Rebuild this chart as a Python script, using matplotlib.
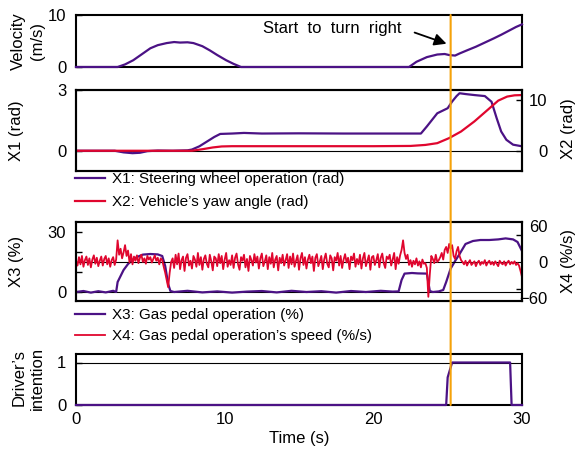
import numpy as np
import matplotlib
matplotlib.use("Agg")
import matplotlib.pyplot as plt
from matplotlib.patches import ConnectionPatch
from matplotlib.ticker import FixedLocator

plt.rcParams['font.family'] = ['Liberation Sans', 'DejaVu Sans']
plt.rcParams['font.size'] = 12

# ---------------- data ----------------
vel_t = [0, 2.8, 3.3, 3.85, 4.4, 5.0, 5.5, 6.1, 6.6, 7.0, 7.5, 7.9, 8.5, 9.0, 9.5, 10.1,
         10.6, 11.1, 22.4, 22.9, 23.6, 24.3, 24.8, 25.1, 25.5, 25.8, 26.3, 26.9, 27.5,
         28.1, 28.6, 29.2, 29.6, 30]
vel_v = [0, 0, 0.5, 1.3, 2.4, 3.6, 4.2, 4.6, 4.8, 4.7, 4.75, 4.6, 4.0, 3.2, 2.3, 1.3,
         0.6, 0, 0, 1.0, 1.9, 2.4, 2.5, 2.3, 2.2, 2.6, 3.2, 3.9, 4.7, 5.5, 6.2, 7.1, 7.7, 8.2]

x1_t = [0, 2.6, 3.2, 3.8, 4.3, 4.8, 5.5, 6.5, 7.5, 7.8, 8.3, 8.8, 9.3, 9.7, 10.5, 11.3,
        12.5, 15, 18, 21, 23.2, 23.6, 24.3, 25.0, 25.3, 25.6, 25.8, 26.2, 26.8, 27.5,
        27.95, 28.3, 28.6, 28.95, 29.4, 30]
x1_v = [0, 0, -0.08, -0.12, -0.1, -0.02, 0.01, 0, 0.02, 0.06, 0.22, 0.45, 0.68, 0.83,
        0.85, 0.88, 0.85, 0.86, 0.85, 0.85, 0.85, 1.2, 1.85, 2.1, 2.43, 2.7, 2.84, 2.8,
        2.75, 2.7, 2.42, 1.6, 0.95, 0.54, 0.3, 0.22]

x2_t = [0, 7.8, 8.5, 9.2, 9.8, 10.5, 15, 20, 22.5, 23.5, 24.3, 25.1, 25.9, 26.8, 27.7,
        28.4, 29.0, 29.5, 30]
x2_v = [0, 0, 0.3, 0.65, 0.85, 0.9, 0.9, 0.9, 0.95, 1.15, 1.5, 2.5, 3.8, 5.8, 8.1, 9.9,
        10.7, 10.95, 11.0]

x3_t = [0, 0.5, 1.0, 1.5, 2.0, 2.5, 2.7, 2.8, 3.0, 3.2, 3.5, 3.8, 4.1, 4.5, 5.0, 5.5,
        5.8, 6.0, 6.2, 6.35, 6.6, 7.5, 8.5, 9.5, 10.5, 11.5, 12.5, 13.5, 14.5, 15.5,
        16.5, 17.5, 18.5, 19.5, 20.5, 21.3, 21.7, 21.9, 22.1, 22.6, 23.0, 23.6, 23.8,
        24.0, 24.4, 24.7, 24.9, 25.2, 25.5, 25.8, 26.2, 26.7, 27.2, 27.8, 28.4, 28.9,
        29.4, 29.7, 30.0]
x3_v = [0, 0.5, -0.3, 0.4, -0.2, 0.6, 0, 5, 8, 11, 14, 16, 17.5, 18.7, 19, 18.8, 18, 13,
        4, 0.5, 0, 0.6, -0.2, 0.3, -0.3, 0.2, 0.5, -0.2, 0.6, 0, 0.4, -0.3, 0.5, 0, 0.6,
        0.2, 0.3, 6, 9.2, 9.5, 9.3, 9.2, 0.5, 0, 0.3, 1, 5, 11.7, 15.5, 19, 24, 25.5, 26,
        26, 26.3, 26.8, 26.3, 25, 20.5]

# X4 sampled every 0.1 s (one row per second)
x4_dt = 0.1
x4_v = [
    2, -6, 8, -4, 10, -8, 3, 9, -5, 6,
    -9, 4, 11, -3, 7, -7, 2, 9, -6, 5,
    10, -4, 6, -8, 3, 8, -5, 4, 36, 12,
    22, 6, 16, 28, 10, 19, -1, 13, -4, 9,
    2, 11, -2, 7, 12, 0, 6, -3, 10, 4,
    8, -1, 5, 11, 2, 7, -4, 6, 3, -8,
    -18, -30, -42, -18, 0, 6, -10, 12, -4, 14,
    -12, 3, 9, -15, 7, 13, -6, 2, -11, 10,
    4, -8, 15, -5, 8, -13, 5, 11, -3, -9,
    12, 1, -14, 9, 6, -7, 13, -2, 10, -12,
    4, 15, -8, 3, -5, 11, -10, 7, 14, -4,
    -13, 8, 2, 12, -9, 5, -15, 10, 3, -6,
    13, -1, 9, -11, 6, 14, -7, 1, 11, -12,
    8, -3, 15, -9, 4, 10, -14, 7, -2, 12,
    -6, 3, 13, -10, 9, -4, 14, -8, 2, 11,
    -13, 6, 15, -5, 8, -11, 4, 12, -2, 9,
    -15, 7, 13, -7, 1, 10, -12, 5, 14, -3,
    -9, 11, 6, -14, 8, 2, 15, -6, 10, -10,
    4, 13, -1, 7, -12, 9, 3, 14, -8, 5,
    -4, 12, -11, 6, 15, -7, 2, 11, -13, 8,
    10, -5, 3, 13, -9, 7, 14, -2, -10, 9,
    5, 12, -6, 4, 15, -12, 8, -3, 11, 20,
    36, 15, 5, 12, -5, 3, -8, 2, -4, 6,
    -6, 1, -9, 4, -3, -2, -10, -58, -20, 10,
    5, -2, 12, 0, 3, 8, 15, 4, 20, 25,
    15, 30, 22, 28, 10, 5, 18, 25, 10, 3,
    0, -4, 2, -6, -1, 3, -5, -2, 1, -7,
    -1, 2, -5, 0, -3, 3, -6, -1, 2, -4,
    0, -5, 1, -3, -7, 2, -2, -4, 1, -6,
    -1, 2, -4, 0, -3, 1, -5, -2, -6, -15,
    -25,
]
x4_t = np.arange(len(x4_v)) * x4_dt

int_t = [0, 24.9, 25.0, 25.3, 29.2, 29.3, 30]
int_v = [0, 0, 0.65, 1, 1, 0, 0]

t_turn = 25.2
x_ticks = [0, 10, 20, 30]

PURPLE = '#4b1285'
RED = '#e0062e'
ORANGE = '#f5a20a'
LW = 1.6
SPINE_LW = 1.5

W, H = 579, 449
fig = plt.figure(figsize=(W / 100, H / 100), dpi=100)


def axes_px(top, bottom, left=76, right=522):
    return fig.add_axes([left / W, 1 - bottom / H, (right - left) / W, (bottom - top) / H])


def style(ax, xlabels=False):
    for s in ax.spines.values():
        s.set_linewidth(SPINE_LW)
        s.set_color('black')
    ax.set_xlim(0, 30)
    ax.set_xticks(x_ticks)
    ax.tick_params(axis='x', length=0, labelbottom=xlabels, pad=5)
    ax.tick_params(axis='y', direction='in', length=4, width=1, pad=7, right=False)
    ax.tick_params(axis='y', which='minor', direction='in', length=4, width=1)


def style_right(axr):
    axr.tick_params(axis='y', direction='in', length=4, width=1, pad=18.5)
    axr.tick_params(axis='y', which='minor', direction='in', length=4, width=1)
    plt.setp(axr.get_yticklabels(), ha='right')


# Panel 1: velocity
ax1 = axes_px(15, 67)
style(ax1)
ax1.plot(vel_t, vel_v, color=PURPLE, lw=LW, zorder=3, clip_on=False)
ax1.set_ylim(0, 10)
ax1.set_yticks([0, 10])
ax1.annotate('', xy=(25.1, 4.3), xytext=(22.6, 6.8),
             arrowprops=dict(arrowstyle='-|>', color='black', lw=1.3, mutation_scale=18))
ax1.text(12.55, 7.5, 'Start  to  turn  right', ha='left', va='center', fontsize=12)

# Panel 2: X1 / X2
ax2 = axes_px(90, 171)
style(ax2)
ax2.axhline(0, color='black', lw=0.8, zorder=1)
l1, = ax2.plot(x1_t, x1_v, color=PURPLE, lw=LW, label='X1: Steering wheel operation (rad)')
ax2.set_ylim(-1, 3)
ax2.set_yticks([0, 3])
ax2r = ax2.twinx()
l2, = ax2r.plot(x2_t, x2_v, color=RED, lw=LW, label='X2: Vehicle\u2019s yaw angle (rad)')
ax2r.set_ylim(-4, 12)
ax2r.set_yticks([0, 10])
ax2r.set_xlim(0, 30)
for s in ax2r.spines.values():
    s.set_linewidth(SPINE_LW)
style_right(ax2r)

# Panel 3: X3 / X4
ax3 = axes_px(222, 301)
style(ax3)
ax3.axhline(0, color='black', lw=0.8, zorder=1)
l3, = ax3.plot(x3_t, x3_v, color=PURPLE, lw=LW, label='X3: Gas pedal operation (%)')
ax3.set_ylim(-4.5, 35)
ax3.set_yticks([0, 30])
ax3.yaxis.set_minor_locator(FixedLocator([10, 20]))
ax3r = ax3.twinx()
ax3r.axhline(0, color='black', lw=0.8, zorder=1)
l4, = ax3r.plot(x4_t, x4_v, color=RED, lw=1.3, label='X4: Gas pedal operation\u2019s speed (%/s)')
ax3r.set_ylim(-65, 66.5)
ax3r.set_yticks([-60, 0, 60])
ax3r.yaxis.set_minor_locator(FixedLocator([-45, 45]))
ax3r.set_xlim(0, 30)
for s in ax3r.spines.values():
    s.set_linewidth(SPINE_LW)
style_right(ax3r)
ax3r.tick_params(axis='y', which='major', length=0)

# Panel 4: intention
ax4 = axes_px(354, 405)
style(ax4, xlabels=True)
ax4.axhline(1, color='black', lw=0.8, zorder=1)
ax4.plot(int_t, int_v, color=PURPLE, lw=LW, zorder=3, clip_on=False)
ax4.set_ylim(0, 1.2)
ax4.set_yticks([0, 1])
ax4.set_xlabel('Time (s)', labelpad=3)

# legends
leg_kw = dict(loc='upper left', frameon=False, fontsize=11, handlelength=1.95,
              handletextpad=0.45, borderpad=0, borderaxespad=0)
fig.legend(handles=[l1, l2], bbox_to_anchor=(75 / W, 1 - 172 / H), labelspacing=0.6, **leg_kw)
fig.legend(handles=[l3, l4], bbox_to_anchor=(75 / W, 1 - 308 / H), labelspacing=0.45, **leg_kw)

# y labels
def ylab(x, y, s):
    fig.text(x / W, 1 - y / H, s, rotation=90, ha='center', va='center',
             multialignment='center', fontsize=12, linespacing=1.3)

ylab(28, 41, 'Velocity\n(m/s)')
ylab(16, 131, 'X1 (rad)')
ylab(16, 261, 'X3 (%)')
ylab(28, 378, 'Driver\u2019s\nintention')
ylab(568, 129, 'X2 (rad)')
ylab(568, 261, 'X4 (%/s)')

# vertical line for turn start
cp = ConnectionPatch(xyA=(t_turn, 10), coordsA=ax1.transData,
                     xyB=(t_turn, 0), coordsB=ax4.transData,
                     color=ORANGE, lw=1.5, zorder=10)
fig.add_artist(cp)

fig.savefig('out.png', dpi=100)
